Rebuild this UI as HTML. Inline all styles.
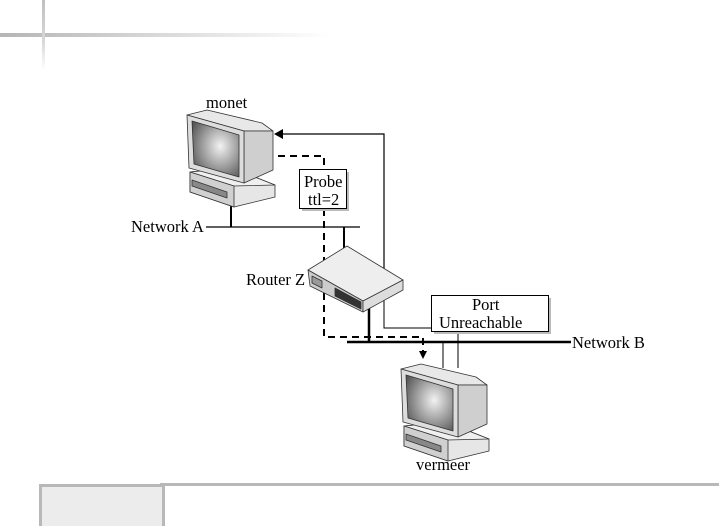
<!DOCTYPE html>
<html><head><meta charset="utf-8"><style>
html,body{margin:0;padding:0;background:#fff;}
body{width:719px;height:526px;overflow:hidden;position:relative;}
svg{position:absolute;left:0;top:0;}
text{font-family:"Liberation Serif",serif;font-size:16.5px;fill:#000;}
</style></head><body>
<svg width="719" height="526" viewBox="0 0 719 526">
<defs>
<linearGradient id="hb" x1="0" x2="1"><stop offset="0" stop-color="#b5b5b5"/><stop offset="1" stop-color="#fff"/></linearGradient>
<linearGradient id="vb" x1="0" x2="0" y1="0" y2="1"><stop offset="0" stop-color="#c0c0c0"/><stop offset="0.6" stop-color="#d8d8d8"/><stop offset="1" stop-color="#fff"/></linearGradient>
<radialGradient id="scr" cx="0.6" cy="0.45" r="0.7"><stop offset="0" stop-color="#f2f2f2"/><stop offset="1" stop-color="#555"/></radialGradient>
<g id="pc" stroke="#333" stroke-width="0.8" stroke-linejoin="round">
<polygon points="3,62 45,58 88,75 88,87 47,97 3,82" fill="#e6e6e6"/>
<polygon points="3,62 47,76 88,75 45,58" fill="#f0f0f0"/>
<polygon points="3,62 47,76 47,97 3,82" fill="#d0d0d0"/>
<polygon points="5,70 40,82 40,88 5,76" fill="#888"/>
<polygon points="0,5 20,0 75,13 86,21 57,21" fill="#e8e8e8"/>
<polygon points="57,21 86,21 86,60 57,73" fill="#cfcfcf"/>
<polygon points="0,5 57,21 57,73 2,58" fill="#ddd"/>
<polygon points="5,11 52,25 52,67 7,54" fill="url(#scr)"/>
</g>
</defs>
<rect x="0" y="33" width="330" height="4" fill="url(#hb)"/>
<rect x="42" y="0" width="3" height="70" fill="url(#vb)"/>
<rect x="160" y="483" width="559" height="3" fill="#b8b8b8"/>
<rect x="40.5" y="485.5" width="123" height="42" fill="#ececec" stroke="#b8b8b8" stroke-width="3"/>
<g stroke="#000" fill="none">
<line x1="206" y1="227" x2="360" y2="227" stroke-width="1.2"/>
<line x1="231" y1="203" x2="231" y2="227" stroke-width="2"/>
<line x1="344" y1="227" x2="344" y2="252" stroke-width="2"/>
<line x1="347" y1="342" x2="571" y2="342" stroke-width="2.5"/>
<line x1="369" y1="305" x2="369" y2="342" stroke-width="2.5"/>
<polyline points="384,287 384,134 280,134" stroke-width="1.2"/>
<polyline points="384,300 384,328 432,328" stroke-width="1"/>
<line x1="443" y1="342" x2="443" y2="368" stroke-width="1"/>
<line x1="458" y1="331" x2="458" y2="368" stroke-width="1"/>
<polyline points="266,156 324,156 324,170" stroke-width="2" stroke-dasharray="7,5"/>
<polyline points="324,209 324,337 423,337 423,352" stroke-width="2" stroke-dasharray="7,5"/>
</g>
<polygon points="274,134 283,129 283,139" fill="#000"/>
<polygon points="419,351 427,351 423,359" fill="#000"/>
<use href="#pc" x="187" y="110"/>
<use href="#pc" x="401" y="364"/>
<g stroke="#333" stroke-width="0.8" stroke-linejoin="round">
<polygon points="308,270 347,246 403,280 363,301" fill="#eee"/>
<polygon points="308,270 363,301 363,312 310,286" fill="#ccc"/>
<polygon points="363,301 403,280 403,290 363,312" fill="#ddd"/>
<polygon points="335,288 361,302 361,309 335,296" fill="#333"/>
<polygon points="312,276 322,281 322,288 312,283" fill="#999"/>
</g>
<rect x="302" y="172" width="47" height="39" fill="#bbb"/>
<rect x="299.5" y="169.5" width="47" height="39" fill="#fff" stroke="#000"/>
<rect x="434" y="298" width="117" height="36" fill="#bbb"/>
<rect x="431.5" y="295.5" width="117" height="36" fill="#fff" stroke="#000"/>
<text x="206" y="108">monet</text>
<text x="131" y="232">Network A</text>
<text x="246" y="285">Router Z</text>
<text x="304" y="187">Probe</text>
<text x="308" y="205">ttl=2</text>
<text x="472" y="310">Port</text>
<text x="439" y="328">Unreachable</text>
<text x="572" y="348">Network B</text>
<text x="416" y="470">vermeer</text>
</svg>
</body></html>
